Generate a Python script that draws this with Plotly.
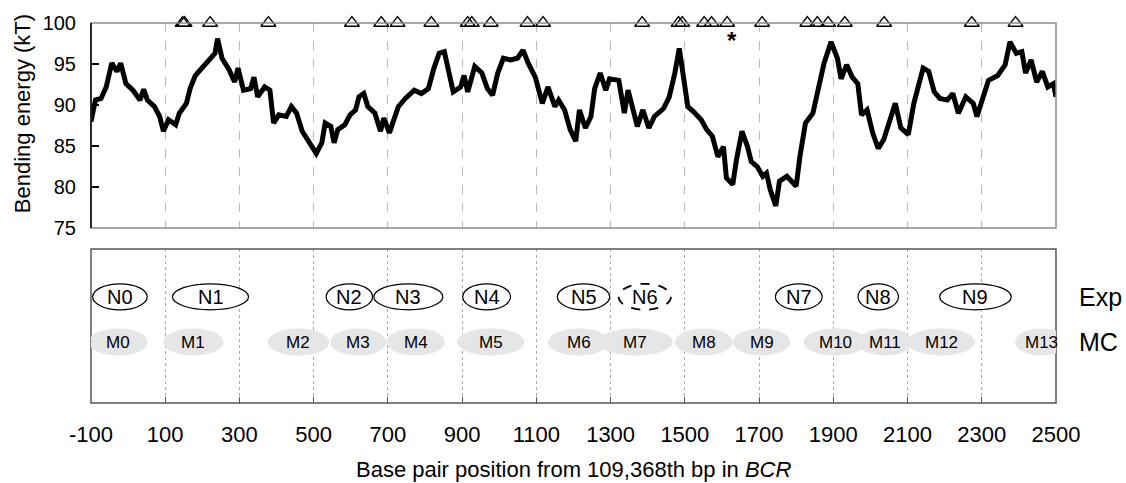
import plotly.graph_objects as go

# ---- data ----
bp_pos = [-100, -88, -73, -59, -44, -30, -20, -6, 13, 32, 42, 52, 71, 85, 95, 109, 128, 138, 157, 167,
          181, 195, 215, 234, 241, 253, 272, 287, 296, 311, 330, 339, 349, 368, 382, 392, 406, 426, 440, 454,
          469, 483, 498, 507, 522, 531, 546, 555, 565, 584, 598, 613, 622, 635, 646, 665, 680, 689, 704, 713,
          728, 747, 771, 790, 809, 824, 838, 852, 867, 876, 896, 905, 915, 934, 953, 968, 982, 996, 1011, 1030,
          1049, 1064, 1078, 1097, 1116, 1131, 1150, 1160, 1176, 1191, 1206, 1216, 1232, 1247, 1257, 1272, 1287, 1297, 1322, 1337,
          1347, 1357, 1372, 1387, 1403, 1418, 1443, 1458, 1473, 1485, 1495, 1508, 1523, 1544, 1559, 1574, 1589, 1604, 1612, 1629,
          1639, 1654, 1669, 1679, 1695, 1710, 1720, 1730, 1745, 1755, 1775, 1800, 1810, 1825, 1845, 1860, 1875, 1894, 1911, 1921,
          1936, 1951, 1966, 1976, 1991, 2006, 2021, 2036, 2051, 2067, 2082, 2102, 2117, 2142, 2157, 2172, 2187, 2207, 2222, 2237,
          2257, 2277, 2287, 2302, 2318, 2343, 2363, 2376, 2393, 2408, 2418, 2433, 2448, 2463, 2478, 2493, 2500]
energy = [88.0, 90.6, 90.8, 92.2, 95.1, 94.1, 95.1, 92.6, 91.8, 90.6, 91.9, 90.6, 89.8, 88.6, 86.8, 88.2, 87.6, 89.0, 90.2, 92.0,
          93.6, 94.3, 95.5, 96.3, 98.1, 95.7, 94.3, 92.8, 94.5, 91.8, 92.0, 93.4, 91.0, 92.2, 91.8, 87.8, 88.8, 88.6, 89.8, 89.0,
          86.8, 85.8, 85.0, 84.1, 85.4, 87.8, 87.4, 85.4, 87.0, 87.6, 88.8, 89.4, 91.0, 91.4, 89.8, 89.0, 86.8, 88.4, 86.6, 87.8,
          89.8, 90.8, 91.8, 91.4, 92.0, 94.5, 96.3, 96.5, 93.0, 91.6, 92.2, 93.6, 91.6, 94.7, 93.9, 92.0, 91.2, 93.9, 95.7, 95.5,
          95.7, 96.7, 95.1, 93.4, 90.2, 92.2, 89.8, 90.6, 89.4, 87.0, 85.6, 89.4, 87.2, 88.6, 92.0, 93.9, 91.8, 93.2, 93.0, 89.0,
          91.8, 89.8, 87.4, 89.4, 87.2, 88.6, 89.6, 91.0, 93.9, 96.9, 94.1, 89.8, 89.2, 88.2, 87.0, 86.2, 83.7, 84.9, 81.1, 80.3,
          83.3, 86.8, 84.9, 83.1, 82.5, 81.3, 81.7, 79.7, 77.7, 80.7, 81.3, 80.1, 83.7, 87.8, 89.0, 92.0, 95.1, 97.7, 95.7, 93.2,
          94.9, 93.4, 92.6, 88.8, 89.4, 86.6, 84.7, 85.8, 87.8, 90.2, 87.2, 86.4, 90.2, 94.5, 94.1, 91.6, 90.8, 90.6, 91.4, 89.0,
          91.0, 90.2, 88.6, 91.0, 93.0, 93.6, 94.9, 97.7, 96.3, 96.5, 93.9, 95.5, 92.8, 94.1, 92.2, 92.6, 91.0]

triangle_bp = [147, 152, 221, 378, 603, 682, 726, 817, 915, 926, 977, 1076, 1118, 1385, 1483, 1493,
               1552, 1572, 1614, 1708, 1830, 1857, 1886, 1931, 2037, 2273, 2391]
asterisk_bp = [1627]
asterisk_val = [98.4]

exp_names = ["N0", "N1", "N2", "N3", "N4", "N5", "N6", "N7", "N8", "N9"]
exp_centers = [-22, 222, 596, 755, 966, 1227, 1392, 1807, 2021, 2283]
exp_widths = [147, 205, 125, 186, 129, 141, 141, 126, 109, 193]
exp_dashed = ["N6"]

mc_names = ["M0", "M1", "M2", "M3", "M4", "M5", "M6", "M7", "M8", "M9", "M10", "M11", "M12", "M13"]
mc_centers = [-27, 176, 459, 620, 775, 977, 1214, 1367, 1551, 1707, 1905, 2040, 2191, 2460]
mc_widths = [159, 162, 166, 151, 157, 182, 166, 201, 156, 155, 170, 150, 181, 140]

x_ticks = list(range(-100, 2501, 200))
y_ticks = [75, 80, 85, 90, 95, 100]

FONT = "Arial, Liberation Sans, sans-serif"
EXP_Y, MC_Y = 0.69, 0.396
EXP_H, MC_H = 0.169, 0.175

fig = go.Figure()
fig.add_trace(go.Scatter(x=bp_pos, y=energy, mode="lines", line=dict(color="black", width=5),
                         xaxis="x", yaxis="y", showlegend=False, hoverinfo="skip"))
fig.add_trace(go.Scatter(x=triangle_bp, y=[100] * len(triangle_bp), mode="markers",
                         marker=dict(symbol="triangle-up-open", size=13, color="black", line=dict(width=1.3)),
                         cliponaxis=False, xaxis="x", yaxis="y", showlegend=False))
fig.add_trace(go.Scatter(x=[-100, 2500], y=[0, 1], mode="markers", marker=dict(opacity=0),
                         xaxis="x2", yaxis="y2", showlegend=False, hoverinfo="skip"))

shapes = []
# frames
shapes.append(dict(type="rect", xref="x domain", yref="y domain", x0=0, x1=1, y0=0, y1=1,
                   line=dict(color="#8a8a8a", width=1.5)))
shapes.append(dict(type="line", xref="x domain", yref="y domain", x0=0, x1=0, y0=0, y1=1,
                   line=dict(color="black", width=1.5)))
shapes.append(dict(type="rect", xref="x2 domain", yref="y2 domain", x0=0, x1=1, y0=0, y1=1,
                   line=dict(color="#555555", width=1.5)))

annotations = []
for n, c, w in zip(mc_names, mc_centers, mc_widths):
    shapes.append(dict(type="circle", xref="x2", yref="y2", x0=c - w / 2, x1=c + w / 2,
                       y0=MC_Y - MC_H / 2, y1=MC_Y + MC_H / 2, fillcolor="#e6e6e6",
                       line=dict(width=0)))
    annotations.append(dict(x=c, y=MC_Y, xref="x2", yref="y2", text=n, showarrow=False,
                            font=dict(size=17, color="black", family=FONT)))
for n, c, w in zip(exp_names, exp_centers, exp_widths):
    dashed = n in exp_dashed
    shapes.append(dict(type="circle", xref="x2", yref="y2", x0=c - w / 2, x1=c + w / 2,
                       y0=EXP_Y - EXP_H / 2, y1=EXP_Y + EXP_H / 2, fillcolor="white",
                       line=dict(color="black", width=1.8 if dashed else 1.2,
                                 dash="dash" if dashed else "solid")))
    annotations.append(dict(x=c, y=EXP_Y, xref="x2", yref="y2", text=n, showarrow=False,
                            font=dict(size=20, color="black", family=FONT)))

annotations.append(dict(x=1.022, y=EXP_Y, xref="paper", yref="y2", text="Exp", showarrow=False,
                        xanchor="left", font=dict(size=25, color="black", family=FONT)))
annotations.append(dict(x=1.022, y=MC_Y, xref="paper", yref="y2", text="MC", showarrow=False,
                        xanchor="left", font=dict(size=25, color="black", family=FONT)))
annotations.append(dict(x=asterisk_bp[0], y=asterisk_val[0], xref="x", yref="y", text="<b>*</b>",
                        showarrow=False, yanchor="middle", yshift=-4,
                        font=dict(size=24, color="black", family=FONT)))
annotations.append(dict(x=0.5, y=-0.176, xref="paper", yref="paper", yanchor="middle",
                        text="Base pair position from 109,368th bp in <i>BCR</i>", showarrow=False,
                        font=dict(size=22, color="black", family=FONT)))
annotations.append(dict(x=-0.0715, y=0.76, xref="paper", yref="paper", textangle=-90,
                        text="Bending energy (kT)", showarrow=False, xanchor="center", yanchor="middle",
                        font=dict(size=22, color="black", family=FONT)))

fig.update_layout(
    width=1126, height=483,
    margin=dict(l=91, r=70, t=23, b=80),
    paper_bgcolor="white", plot_bgcolor="white",
    font=dict(family=FONT, color="black"),
    shapes=shapes, annotations=annotations,
    xaxis=dict(domain=[0, 1], range=[-100, 2500], anchor="y", tickvals=x_ticks, showticklabels=False,
               showgrid=True, gridcolor="#bbbbbb", griddash="dash", gridwidth=1, zeroline=False,
               showline=False, ticks=""),
    yaxis=dict(domain=[0.4605, 1], range=[75, 100], anchor="x", tickvals=y_ticks, ticks="inside",
               ticklen=8, tickcolor="black", tickwidth=1.5, showgrid=False, zeroline=False, showline=False,
               tickfont=dict(size=20, family=FONT), ticklabelstandoff=14),
    xaxis2=dict(domain=[0, 1], range=[-100, 2500], anchor="y2", tickvals=x_ticks,
                ticktext=[str(v) for v in x_ticks], ticks="inside", ticklen=6, tickcolor="#555555",
                showgrid=True, gridcolor="#aaaaaa", griddash="dot", gridwidth=1, zeroline=False,
                showline=False, tickfont=dict(size=22, family=FONT), ticklabelstandoff=16),
    yaxis2=dict(domain=[0, 0.405], range=[0, 1], anchor="x2", showticklabels=False, showgrid=False,
                zeroline=False, showline=False, ticks=""),
)

fig.write_html("out.html")
